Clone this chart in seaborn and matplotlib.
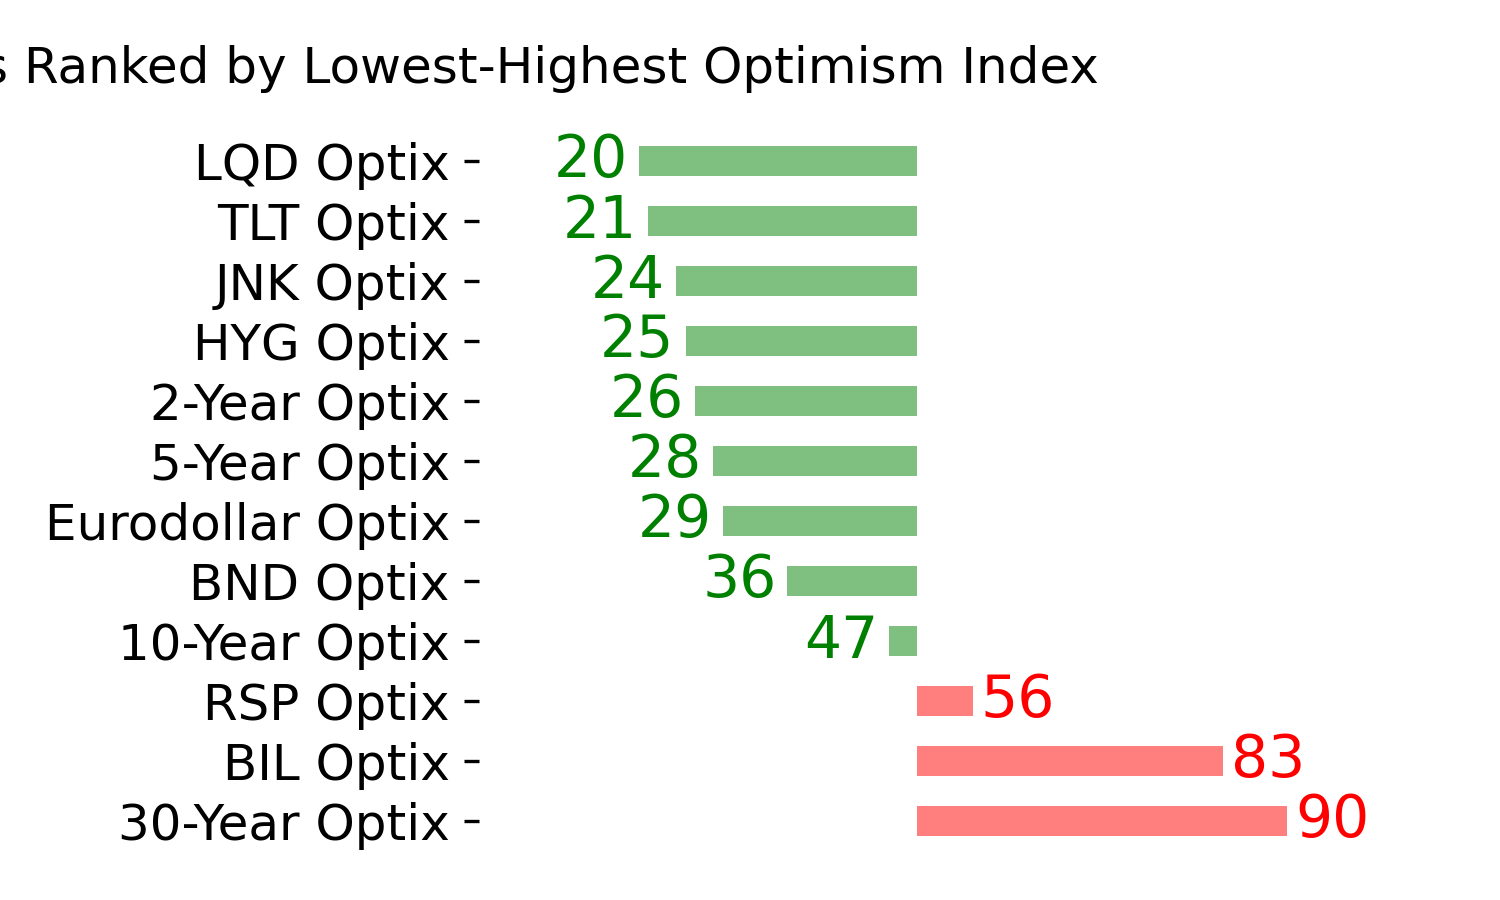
import matplotlib
matplotlib.use("Agg")
import matplotlib.pyplot as plt
import seaborn as sns
import pandas as pd

# ---- data ----
indicators = ["LQD Optix", "TLT Optix", "JNK Optix", "HYG Optix", "2-Year Optix",
              "5-Year Optix", "Eurodollar Optix", "BND Optix", "10-Year Optix",
              "RSP Optix", "BIL Optix", "30-Year Optix"]
optix = [20, 21, 24, 25, 26, 28, 29, 36, 47, 56, 83, 90]
neutral = 50
title = "s Ranked by Lowest-Highest Optimism Index"

df = pd.DataFrame({"indicator": indicators, "optix": optix})
df["deviation"] = df["optix"] - neutral
colors = ["green" if v < neutral else "red" for v in optix]

plt.rcParams["font.family"] = ["DejaVu Sans"]

fig = plt.figure(figsize=(5, 3), dpi=300)
W, H = 1500, 900
ax_left, ax_right, ax_top, ax_bot = 479, 1350, 101, 881
ax = fig.add_axes([ax_left / W, 1 - ax_bot / H, (ax_right - ax_left) / W, (ax_bot - ax_top) / H])

sns.barplot(data=df, x="deviation", y="indicator", hue="indicator", palette=colors,
            legend=False, orient="h", width=0.5, saturation=1, alpha=0.5,
            linewidth=0, ax=ax)

for i, (v, d, c) in enumerate(zip(optix, df["deviation"], colors)):
    if d < 0:
        ax.annotate(str(v), xy=(d, i), xytext=(-2.64, 0), textcoords="offset points",
                    ha="right", va="center", color=c, fontsize=14)
    else:
        ax.annotate(str(v), xy=(d, i), xytext=(1.92, 0), textcoords="offset points",
                    ha="left", va="center", color=c, fontsize=14)

center_px = 917
scale = 9.26
ax.set_xlim(-(center_px - ax_left) / scale, (ax_right - center_px) / scale)
ax.set_ylim(12, -1)
ax.set_xticks([])
ax.set_xlabel("")
ax.set_ylabel("")
for s in ax.spines.values():
    s.set_visible(False)
ax.tick_params(axis="y", labelsize=12, length=3.5, width=0.8, color="black",
               labelcolor="black", left=True)
ax.set_facecolor("white")
fig.patch.set_facecolor("white")

fig.text(1099 / W, 1 - 83 / H, title, ha="right", va="baseline", fontsize=12, color="black")

fig.savefig("out.png", dpi=300)
